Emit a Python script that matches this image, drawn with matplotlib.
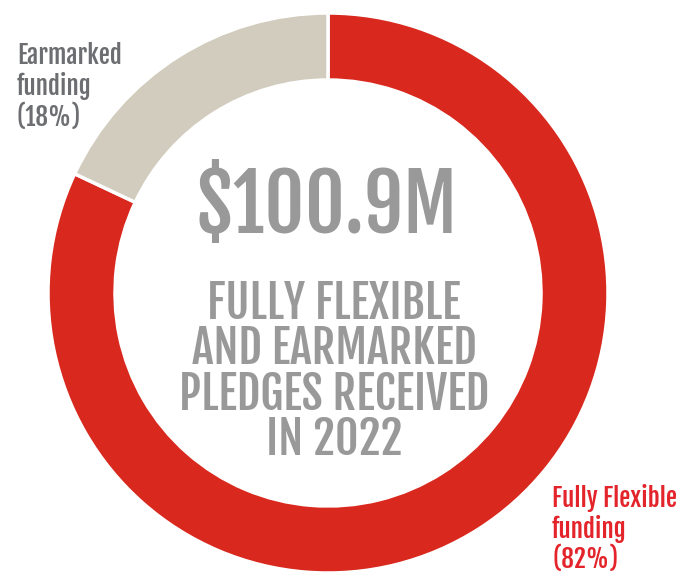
import matplotlib
matplotlib.use("Agg")
import matplotlib.pyplot as plt

# data
labels = ["Fully Flexible funding", "Earmarked funding"]
shares = [82, 18]
colors = ["#d9281d", "#d1ccbd"]
total_txt = "$100.9M"
center_txt = "FULLY FLEXIBLE\nAND EARMARKED\nPLEDGES RECEIVED\nIN 2022"
label_txt = ["Fully Flexible\nfunding\n(82%)", "Earmarked\nfunding\n(18%)"]
label_col = ["#e3242b", "#6d6e71"]

plt.rcParams['font.family'] = ['Fjalla One', 'Oswald', 'DejaVu Sans']

W, H = 685, 573
fig = plt.figure(figsize=(W / 100, H / 100), dpi=100)

# donut: center at (328, 293) px, outer radius 280 px
cx, cy, r = 328, 293, 280
ax = fig.add_axes([(cx - r) / W, (H - cy - r) / H, 2 * r / W, 2 * r / H])
ax.pie(shares, colors=colors, startangle=90, counterclock=False,
       wedgeprops=dict(width=67 / 280, edgecolor="white", linewidth=2.5))
ax.set_xlim(-1, 1)
ax.set_ylim(-1, 1)
ax.axis("off")

def px(x, y):
    return x / W, 1 - y / H

fig.text(*px(326, 233), total_txt, ha="center", va="baseline",
         fontsize=56, color="#999999")
fig.text(*px(334, 372), center_txt, ha="center", va="center",
         fontsize=33, color="#999999", linespacing=0.89)

fig.text(*px(17, 42), label_txt[1], ha="left", va="top",
         fontsize=18, color=label_col[1], linespacing=1.15)
fig.text(*px(552, 484), label_txt[0], ha="left", va="top",
         fontsize=18, color=label_col[0], linespacing=1.12)

fig.savefig("out.png", dpi=100)
